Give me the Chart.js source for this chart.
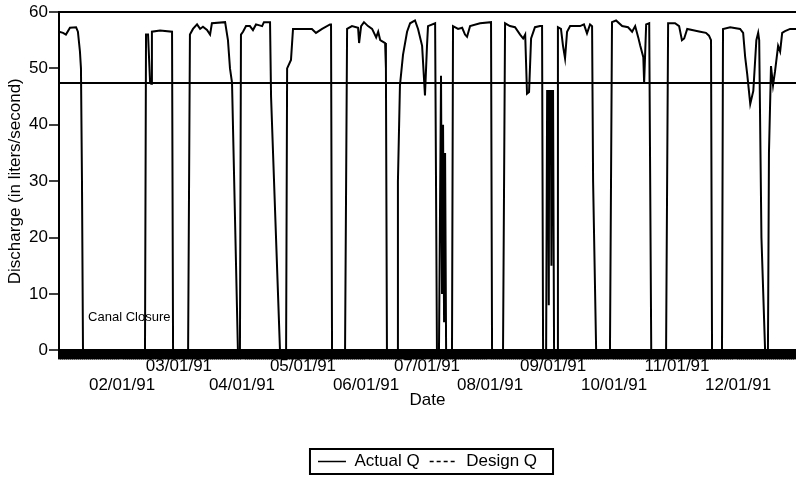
<!DOCTYPE html>
<html>
<head>
<meta charset="utf-8">
<script src="https://cdn.jsdelivr.net/npm/chart.js@4.4.1/dist/chart.umd.min.js"></script>
<style>
  html, body { margin: 0; padding: 0; background: #fff; }
  #wrap { width: 796px; height: 480px; }
</style>
</head>
<body>
<div id="wrap"><canvas id="flowChart"></canvas></div>
<script>
// Canal discharge, 1991. x = day of year (0 = 01/01/91), y = litres/second
const days = [
  0, 2.0, 3.4, 5.4, 8.4, 9.3, 10.3, 10.8, 11.3, 11.8,
  42.3, 42.8, 43.8, 44.8, 45.3, 45.7, 49.7, 55.6, 56.1,
  63.5, 64.4, 65.9, 67.9, 69.4, 70.8, 72.8, 74.3, 75.2, 81.7, 83.1, 84.1, 85.1, 88.0,
  89.0, 89.5, 90.5, 92.0, 93.9, 95.4, 96.9, 99.9, 100.8, 103.8, 104.3, 108.7,
  111.7, 112.2, 114.1, 115.1, 118.5, 124.4, 126.4, 129.4, 133.3, 133.8, 134.3,
  140.7, 141.7, 144.1, 147.1, 147.6, 148.6, 150.0, 152.0, 154.0, 156.0, 157.0, 158.0, 160.4, 160.8, 161.3,
  166.3, 166.7, 167.7, 169.2, 171.2, 172.7, 175.1, 176.6, 178.6, 180.0, 181.0, 181.5, 185.0, 185.9,
  186.9, 187.9, 188.4, 188.9, 189.4, 189.9, 190.4,
  193.3, 193.8, 196.3, 198.3, 199.7, 200.7, 202.2, 207.1, 212.5, 213.0,
  218.4, 219.4, 221.8, 224.3, 226.8, 228.3, 229.3, 230.2, 231.2, 232.2, 234.1, 236.6, 237.6, 238.1,
  239.6, 240.1, 240.6, 240.9, 241.1, 241.9, 242.2, 242.5, 243.0, 243.5,
  245.0, 245.4, 246.9, 247.9, 248.9, 249.9, 251.4, 256.3, 258.2, 259.7, 261.2, 262.2, 262.7, 264.2,
  271.0, 272.0, 274.0, 277.0, 279.9, 281.9, 283.4, 284.9, 285.9, 287.4, 287.8, 288.8, 290.3, 291.3,
  298.6, 299.6, 303.0, 305.0, 306.4, 307.5, 309.0, 311.4, 315.4, 318.2, 319.7, 320.7, 321.2,
  326.1, 326.6, 330.1, 335.0, 336.5, 337.5, 338.5, 340.0, 341.5, 343.0, 343.9, 344.4, 345.5, 347.3,
  348.7, 349.2, 350.2, 351.2, 352.2, 353.7, 354.7, 355.7, 357.1, 359.6, 362.5
];
const actualQ = [
  56.5, 56.3, 56.0, 57.2, 57.3, 56.5, 53, 50, 30, 0,
  0, 56, 56, 47.5, 47.3, 56.5, 56.7, 56.5, 0,
  0, 56, 57, 57.8, 57, 57.4, 56.8, 56, 58, 58.2, 55, 50, 47.5, 0,
  0, 56, 56.5, 57.5, 57.5, 56.8, 57.8, 57.5, 58.2, 58.2, 45, 0,
  0, 50, 51.5, 57, 57, 57, 56.3, 57, 57.8, 57.8, 0,
  0, 57, 57.5, 57.2, 54.5, 57.5, 58.2, 57.5, 57, 55.5, 56.5, 55, 54.5, 50, 0,
  0, 30, 47, 52.4, 56.5, 58, 58.5, 57, 54, 45.2, 54, 57.5, 58, 0,
  0, 48.7, 10, 40, 5, 35, 0,
  0, 57.5, 57, 57.2, 56, 55.6, 57.5, 58, 58.2, 0,
  0, 58, 57.5, 57.3, 56, 55.3, 56, 45.5, 45.8, 55.3, 57.3, 57.5, 57.5, 0,
  0, 46, 46, 8, 46, 46, 15, 46, 46, 0,
  0, 57.3, 57, 54, 51.8, 56.5, 57.5, 57.5, 57.8, 56.2, 57.8, 57.5, 30, 0,
  0, 58.2, 58.5, 57.5, 57.3, 56.5, 57.5, 55.5, 54, 52, 47.4, 57.8, 58, 0,
  0, 58, 58, 57.5, 55, 55.3, 57, 56.8, 56.5, 56.3, 55.8, 55, 0,
  0, 57, 57.3, 57, 56.3, 52, 49, 43.7, 46, 55, 56.3, 55, 20, 0,
  0, 35, 50.4, 47, 49.5, 54, 53, 56.3, 56.6, 57, 57
];
const designQ = 47.4;
const lastDay = 362.5;

const monthDays   = [31, 59, 90, 120, 151, 181, 212, 243, 273, 304, 334];
const monthLabels = ['02/01/91', '03/01/91', '04/01/91', '05/01/91', '06/01/91', '07/01/91',
                     '08/01/91', '09/01/91', '10/01/91', '11/01/91', '12/01/91'];
const yTicks = [0, 10, 20, 30, 40, 50, 60];
const noteText = 'Canal Closure';
const noteAt   = { x: 14.3, y: 5.8 };

const fontFamily = "'Liberation Sans', Arial, sans-serif";
const ink = '#000';

Chart.defaults.font.family = fontFamily;
Chart.defaults.color = ink;

// legend frame + the "Canal Closure" note
const extrasPlugin = {
    id: 'extras',
    afterDraw(chart) {
        const { ctx, scales: { x, y } } = chart;
        ctx.save();
        ctx.fillStyle = ink;
        ctx.font = "13px " + fontFamily;
        ctx.textBaseline = 'middle';
        ctx.fillText(noteText, x.getPixelForValue(noteAt.x), y.getPixelForValue(noteAt.y));

        const boxes = chart.legend.legendHitBoxes;
        if (boxes && boxes.length) {
            const first = boxes[0], last = boxes[boxes.length - 1];
            const l = first.left - 8, r = last.left + last.width + 16;
            const t = first.top - 4, b = first.top + first.height + 4;
            ctx.strokeStyle = ink;
            ctx.lineWidth = 2;
            ctx.strokeRect(l, t, r - l, b - t);
        }
        ctx.restore();
    }
};

new Chart(document.getElementById('flowChart'), {
    type: 'line',
    data: {
        datasets: [
            {
                label: 'Actual Q',
                data: days.map((d, i) => ({ x: d, y: actualQ[i] })),
                borderColor: ink,
                borderWidth: 2,
                pointRadius: 0,
                tension: 0
            },
            {
                label: 'Design Q',
                data: [{ x: 0, y: designQ }, { x: lastDay, y: designQ }],
                borderColor: ink,
                borderWidth: 2,
                pointRadius: 0
            }
        ]
    },
    options: {
        responsive: true,
        maintainAspectRatio: false,
        animation: false,
        layout: { padding: { top: 12, right: 0, bottom: 0, left: 0 } },
        plugins: {
            tooltip: { enabled: false },
            legend: {
                position: 'bottom',
                fullSize: false,
                labels: {
                    color: ink,
                    font: { size: 17 },
                    usePointStyle: true,
                    pointStyle: 'line',
                    pointStyleWidth: 28,
                    boxHeight: 12,
                    padding: 10,
                    generateLabels(chart) {
                        const items = Chart.defaults.plugins.legend.labels.generateLabels(chart);
                        items.forEach(it => {
                            it.lineWidth = 1.5;
                            if (it.text === 'Design Q') it.lineDash = [4, 3];
                        });
                        return items;
                    }
                }
            }
        },
        scales: {
            x: {
                type: 'linear',
                min: 0,
                max: lastDay,
                afterFit: s => { s.height = 92.6; },
                afterBuildTicks: s => {
                    const t = [];
                    for (let d = 0; d <= Math.floor(lastDay); d++) t.push({ value: d });
                    s.ticks = t;
                },
                ticks: {
                    autoSkip: false,
                    maxRotation: 0,
                    padding: -2,
                    color: ink,
                    font: { size: 17, lineHeight: 1.1 },
                    callback: v => {
                        const i = monthDays.indexOf(v);
                        if (i < 0) return '';
                        // labels alternate between two rows
                        return i % 2 === 0 ? ['', monthLabels[i]] : [monthLabels[i], ''];
                    }
                },
                grid: {
                    drawOnChartArea: false,
                    tickLength: 9,
                    tickWidth: 3,
                    tickColor: ink
                },
                border: { display: true, color: ink, width: 3 },
                title: {
                    display: true,
                    text: 'Date',
                    color: ink,
                    font: { size: 17 },
                    padding: { top: 0, bottom: 32 }
                }
            },
            y: {
                min: 0,
                max: 60,
                afterFit: s => { s.width = 59; },
                afterBuildTicks: s => { s.ticks = yTicks.map(v => ({ value: v })); },
                ticks: { color: ink, font: { size: 17 }, padding: 1 },
                grid: {
                    color: c => c.tick && c.tick.value === 60 ? ink : 'transparent',
                    lineWidth: 2,
                    tickLength: 10,
                    tickColor: ink,
                    tickWidth: 1.5
                },
                border: { display: true, color: ink, width: 2 },
                title: {
                    display: true,
                    text: 'Discharge (in liters/second)',
                    color: ink,
                    font: { size: 17 },
                    padding: { top: 5, bottom: 0 }
                }
            }
        }
    },
    plugins: [extrasPlugin]
});
</script>
</body>
</html>
